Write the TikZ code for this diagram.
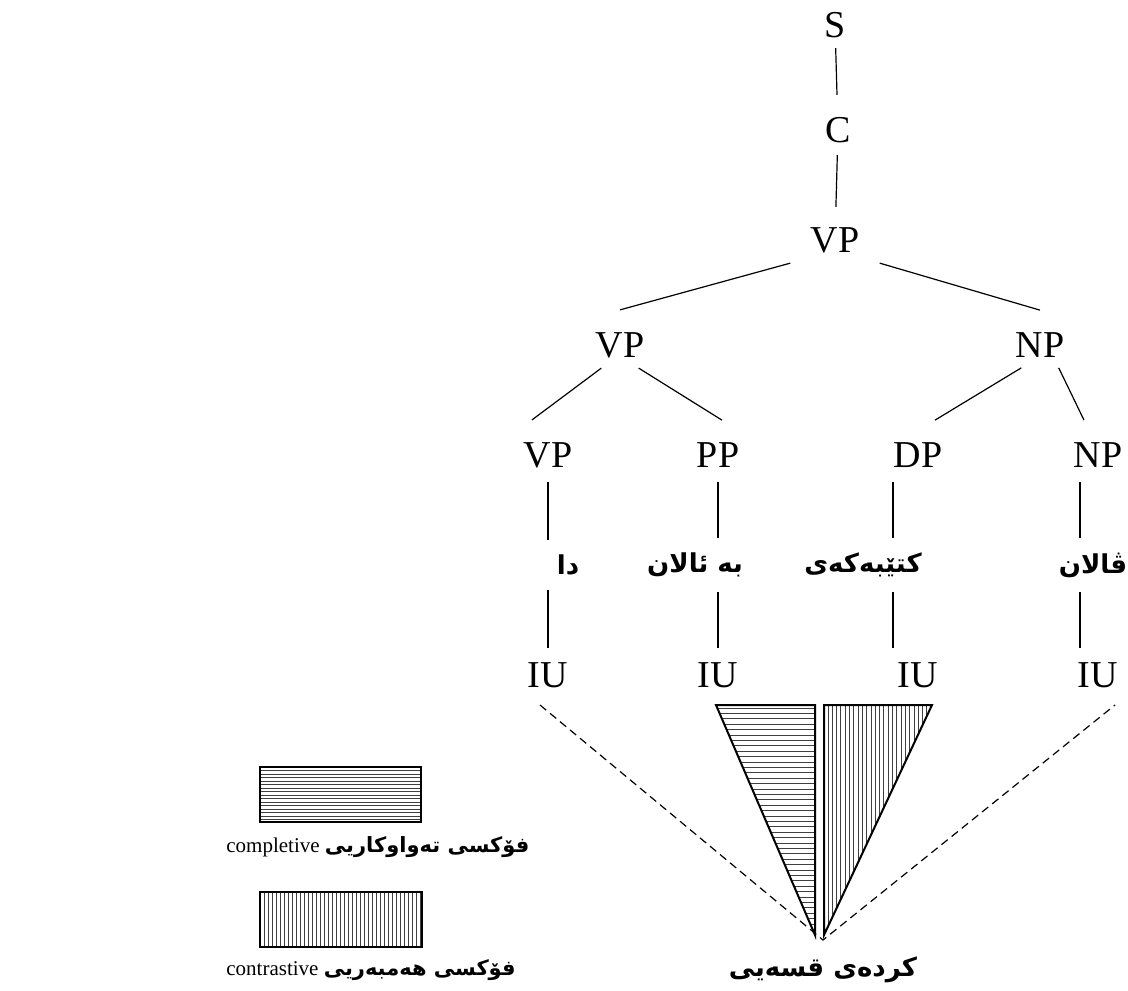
\documentclass[tikz,border=0pt]{standalone}
\usepackage{fontspec}
\setmainfont{Liberation Serif}
\newfontfamily\kurdfont[Script=Arabic]{DejaVu Sans}
\TeXXeTstate=1
\newcommand{\kd}[1]{{\kurdfont\bfseries\beginR #1\endR}}

\begin{document}
\begin{tikzpicture}[x=0.5pt,y=-0.5pt,
  lab/.style={font=\fontsize{19}{22}\selectfont,inner sep=2pt},
  kurd/.style={font=\fontsize{13}{16}\selectfont,inner sep=1pt},
  legtext/.style={font=\fontsize{10.5}{12}\selectfont,inner sep=1pt,anchor=west},
  edge/.style={line width=0.6pt},
  hatch/.style={line width=0.5pt,black!75}]
\useasboundingbox (0,0) rectangle (1128,990);
% tree
\node[lab] (s) at (835,25) {S};
\node[lab] (c) at (838,130) {C};
\node[lab] (vp) at (835,240) {VP};
\node[lab] (vpl) at (620,345) {VP};
\node[lab] (np) at (1040,345) {NP};
\node[lab] (vpa) at (548,455) {VP};
\node[lab] (pp) at (718,455) {PP};
\node[lab] (dp) at (918,455) {DP};
\node[lab] (npb) at (1098,455) {NP};
\draw[edge,shorten <=3pt,shorten >=9pt] (s) -- (c);
\draw[edge,shorten <=4pt,shorten >=8pt] (c) -- (vp);
\draw[edge] ([xshift=-8pt,yshift=-3pt]vp.south west) -- ([yshift=9pt]vpl.north);
\draw[edge] ([xshift=8pt,yshift=-3pt]vp.south east) -- ([yshift=9pt]np.north);
\draw[edge] ([xshift=5pt,yshift=-3pt]vpl.south west) -- ([xshift=-8pt,yshift=9pt]vpa.north);
\draw[edge] ([xshift=-5pt,yshift=-3pt]vpl.south east) -- ([xshift=2pt,yshift=9pt]pp.north);
\draw[edge] ([xshift=5pt,yshift=-3pt]np.south west) -- ([xshift=8.5pt,yshift=9pt]dp.north);
\draw[edge] ([xshift=-5pt,yshift=-3pt]np.south east) -- ([xshift=-7pt,yshift=9pt]npb.north);
% words
\node[kurd] (da) at (568,565) {\kd{دا}};
\node[kurd] (bea) at (695,565) {\kd{بە ئالان}};
\node[kurd] (ktb) at (863,565) {\kd{کتێبەکەی}};
\node[kurd] (val) at (1093,565) {\kd{ڤالان}};
% intonation units
\node[lab] (iua) at (548,675) {IU};
\node[lab] (iub) at (718,675) {IU};
\node[lab] (iuc) at (918,675) {IU};
\node[lab] (iud) at (1098,675) {IU};
\draw[edge,shorten <=5pt,shorten >=6pt] (vpa) -- (vpa |- da.north);
\draw[edge,shorten <=5pt,shorten >=6pt] (pp) -- (pp |- bea.north);
\draw[edge,shorten <=5pt,shorten >=6pt] ([xshift=-12.5pt]dp.south) -- ([xshift=-12.5pt]dp.south |- ktb.north);
\draw[edge,shorten <=5pt,shorten >=6pt] ([xshift=-9pt]npb.south) -- ([xshift=-9pt]npb.south |- val.north);
\draw[edge,shorten <=6pt,shorten >=5pt] (vpa |- da.south) -- (iua);
\draw[edge,shorten <=6pt,shorten >=5pt] (pp |- bea.south) -- (iub);
\draw[edge,shorten <=6pt,shorten >=5pt] ([xshift=-12.5pt]dp.south |- ktb.south) -- ([xshift=-12.5pt]iuc.north);
\draw[edge,shorten <=6pt,shorten >=5pt] ([xshift=-9pt]npb.south |- val.south) -- ([xshift=-9pt]iud.north);
% utterance
\coordinate (apex) at (823,940);
\coordinate (dl) at (540,705);
\coordinate (dr) at (1115,705);
\draw[edge,dash pattern=on 4pt off 2.5pt] (dl) -- (apex) -- (dr);
\node[kurd] (utt) at (823,970) {\kd{کردەی قسەیی}};
% completive focus
\begin{scope}
\clip (716,705) -- (815,705) -- (815,935) -- cycle;
\foreach \y in {708,713.4,...,936}
  \draw[hatch] (710,\y) -- (820,\y);
\end{scope}
\draw[line width=1pt] (716,705) -- (815,705) -- (815,935) -- cycle;
% contrastive focus
\begin{scope}
\clip (824,705) -- (932,705) -- (824,935) -- cycle;
\foreach \x in {828,832.3,...,932}
  \draw[hatch] (\x,700) -- (\x,940);
\end{scope}
\draw[line width=1pt] (824,705) -- (932,705) -- (824,935) -- cycle;
% legend
\foreach \y in {770.5,774,...,820}
  \draw[hatch] (260,\y) -- (421,\y);
\draw[line width=1pt] (260,767) rectangle (421,822);
\node[legtext] (lgc) at (224,847) {completive \kd{فۆکسی تەواوکاریی}};
\foreach \x in {264,268,...,420}
  \draw[hatch] (\x,892) -- (\x,947);
\draw[line width=1pt] (260,892) rectangle (422,947);
\node[legtext] (lgd) at (224,970) {contrastive \kd{فۆکسی هەمبەریی}};
\end{tikzpicture}
\end{document}
